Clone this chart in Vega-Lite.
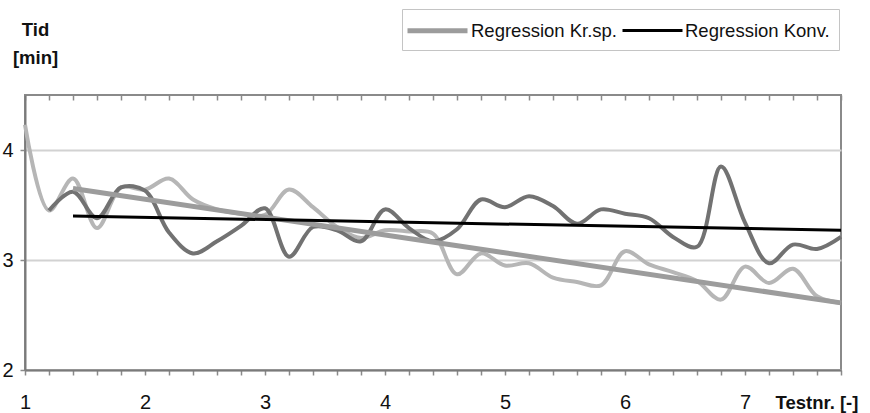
{
  "$schema": "https://vega.github.io/schema/vega-lite/v6.json",
  "width": 816,
  "height": 275,
  "autosize": "none",
  "padding": {"left": 25, "top": 95, "right": 29, "bottom": 43},
  "background": "white",
  "config": {
    "view": {"stroke": "#8a8a8a", "strokeWidth": 2},
    "font": "Liberation Sans",
    "axis": {
      "labelFont": "Liberation Sans",
      "labelFontSize": 20,
      "labelColor": "#111111",
      "titleFont": "Liberation Sans",
      "titleFontWeight": "bold",
      "titleFontSize": 18.5,
      "titleColor": "#111111",
      "domainColor": "#7a7a7a",
      "domainWidth": 2,
      "tickColor": "#8a8a8a",
      "tickWidth": 1.5
    }
  },
  "datasets": {
    "krsp": [
      {"testnr": 1, "tid": 4.23}, {"testnr": 1.2, "tid": 3.45}, {"testnr": 1.4, "tid": 3.74},
      {"testnr": 1.6, "tid": 3.29}, {"testnr": 1.8, "tid": 3.66}, {"testnr": 2, "tid": 3.64},
      {"testnr": 2.2, "tid": 3.74}, {"testnr": 2.4, "tid": 3.55}, {"testnr": 2.6, "tid": 3.46},
      {"testnr": 2.8, "tid": 3.42}, {"testnr": 3, "tid": 3.41}, {"testnr": 3.2, "tid": 3.64},
      {"testnr": 3.4, "tid": 3.48}, {"testnr": 3.6, "tid": 3.3}, {"testnr": 3.8, "tid": 3.2},
      {"testnr": 4, "tid": 3.27}, {"testnr": 4.2, "tid": 3.26}, {"testnr": 4.4, "tid": 3.24},
      {"testnr": 4.6, "tid": 2.87}, {"testnr": 4.8, "tid": 3.06}, {"testnr": 5, "tid": 2.95},
      {"testnr": 5.2, "tid": 2.97}, {"testnr": 5.4, "tid": 2.84}, {"testnr": 5.6, "tid": 2.8},
      {"testnr": 5.8, "tid": 2.77}, {"testnr": 6, "tid": 3.08}, {"testnr": 6.2, "tid": 2.96},
      {"testnr": 6.4, "tid": 2.89}, {"testnr": 6.6, "tid": 2.81}, {"testnr": 6.8, "tid": 2.64},
      {"testnr": 7, "tid": 2.94}, {"testnr": 7.2, "tid": 2.79}, {"testnr": 7.4, "tid": 2.92},
      {"testnr": 7.6, "tid": 2.67}, {"testnr": 7.8, "tid": 2.61}
    ],
    "konv": [
      {"testnr": 1.2, "tid": 3.45}, {"testnr": 1.4, "tid": 3.62}, {"testnr": 1.6, "tid": 3.38},
      {"testnr": 1.8, "tid": 3.66}, {"testnr": 2, "tid": 3.63}, {"testnr": 2.2, "tid": 3.25},
      {"testnr": 2.4, "tid": 3.06}, {"testnr": 2.6, "tid": 3.17}, {"testnr": 2.8, "tid": 3.31},
      {"testnr": 3, "tid": 3.47}, {"testnr": 3.2, "tid": 3.03}, {"testnr": 3.4, "tid": 3.3},
      {"testnr": 3.6, "tid": 3.27}, {"testnr": 3.8, "tid": 3.17}, {"testnr": 4, "tid": 3.46},
      {"testnr": 4.2, "tid": 3.29}, {"testnr": 4.4, "tid": 3.17}, {"testnr": 4.6, "tid": 3.28},
      {"testnr": 4.8, "tid": 3.55}, {"testnr": 5, "tid": 3.48}, {"testnr": 5.2, "tid": 3.58},
      {"testnr": 5.4, "tid": 3.49}, {"testnr": 5.6, "tid": 3.33}, {"testnr": 5.8, "tid": 3.46},
      {"testnr": 6, "tid": 3.42}, {"testnr": 6.2, "tid": 3.38}, {"testnr": 6.4, "tid": 3.21},
      {"testnr": 6.6, "tid": 3.12}, {"testnr": 6.8, "tid": 3.85}, {"testnr": 7, "tid": 3.34},
      {"testnr": 7.2, "tid": 2.97}, {"testnr": 7.4, "tid": 3.14}, {"testnr": 7.6, "tid": 3.1},
      {"testnr": 7.8, "tid": 3.21}
    ],
    "regression": [
      {"serie": "Regression Kr.sp.", "testnr": 1.4, "tid": 3.65},
      {"serie": "Regression Kr.sp.", "testnr": 7.8, "tid": 2.61},
      {"serie": "Regression Konv.", "testnr": 1.4, "tid": 3.4},
      {"serie": "Regression Konv.", "testnr": 7.8, "tid": 3.27}
    ]
  },
  "resolve": {"axis": {"x": "independent"}},
  "layer": [
    {
      "data": {"name": "krsp"},
      "mark": {"type": "line", "interpolate": "catmull-rom", "color": "#b6b6b6", "strokeWidth": 4},
      "encoding": {
        "x": {
          "field": "testnr", "type": "quantitative",
          "scale": {"domain": [1, 7.8], "nice": false, "zero": false},
          "axis": {
            "title": "Testnr. [-]",
            "titleAnchor": "start",
            "titleAlign": "left",
            "titleBaseline": "alphabetic",
            "titleX": 750,
            "titleY": 38,
            "values": [1, 1.2, 1.4, 1.6, 1.8, 2, 2.2, 2.4, 2.6, 2.8, 3, 3.2, 3.4, 3.6, 3.8, 4, 4.2, 4.4, 4.6, 4.8, 5, 5.2, 5.4, 5.6, 5.8, 6, 6.2, 6.4, 6.6, 6.8, 7, 7.2, 7.4, 7.6, 7.8],
            "labelExpr": "abs(datum.value - round(datum.value)) < 0.01 ? format(datum.value, 'd') : ''",
            "labelOverlap": false,
            "labelFlush": false,
            "labelBaseline": "alphabetic",
            "labelPadding": 33,
            "tickSize": 5,
            "grid": false
          }
        },
        "y": {
          "field": "tid", "type": "quantitative",
          "scale": {"domain": [2, 4.5], "nice": false, "zero": false},
          "axis": {
            "title": ["Tid", "[min]"],
            "titleAngle": 0,
            "titleAlign": "center",
            "titleBaseline": "alphabetic",
            "titleLineHeight": 28,
            "titleX": 10,
            "titleY": -60,
            "values": [2, 3, 4],
            "format": "d",
            "tickSize": 5,
            "labelPadding": 7,
            "grid": true,
            "gridColor": "#d2d2d2",
            "gridWidth": 2
          }
        }
      }
    },
    {
      "data": {"name": "konv"},
      "mark": {"type": "line", "interpolate": "catmull-rom", "color": "#727272", "strokeWidth": 4},
      "encoding": {
        "x": {
          "field": "testnr", "type": "quantitative",
          "axis": {
            "title": null,
            "labels": false,
            "domain": false,
            "grid": false,
            "values": [1, 1.2, 1.4, 1.6, 1.8, 2, 2.2, 2.4, 2.6, 2.8, 3, 3.2, 3.4, 3.6, 3.8, 4, 4.2, 4.4, 4.6, 4.8, 5, 5.2, 5.4, 5.6, 5.8, 6, 6.2, 6.4, 6.6, 6.8, 7, 7.2, 7.4, 7.6, 7.8],
            "tickSize": -5
          }
        },
        "y": {"field": "tid", "type": "quantitative"}
      }
    },
    {
      "data": {"name": "regression"},
      "mark": {"type": "line"},
      "encoding": {
        "x": {"field": "testnr", "type": "quantitative", "axis": null},
        "y": {"field": "tid", "type": "quantitative"},
        "color": {
          "field": "serie", "type": "nominal",
          "scale": {"domain": ["Regression Kr.sp.", "Regression Konv."], "range": ["#9c9c9c", "#000000"]},
          "legend": {
            "title": null,
            "orient": "none",
            "legendX": 377,
            "legendY": -86,
            "direction": "horizontal",
            "strokeColor": "#c4c4c4",
            "padding": 9,
            "symbolType": "M-3,0H3",
            "symbolSize": 400,
            "symbolOffset": 14,
            "labelFont": "Liberation Sans",
            "labelFontSize": 18.5,
            "labelColor": "#111111",
            "labelOffset": 21,
            "columnPadding": -2
          }
        },
        "strokeWidth": {
          "field": "serie", "type": "nominal",
          "scale": {"domain": ["Regression Kr.sp.", "Regression Konv."], "range": [5, 3]},
          "legend": {
            "title": null,
            "orient": "none",
            "legendX": 377,
            "legendY": -86,
            "direction": "horizontal",
            "strokeColor": "#c4c4c4",
            "padding": 9,
            "symbolType": "M-3,0H3",
            "symbolSize": 400,
            "symbolOffset": 14,
            "labelFont": "Liberation Sans",
            "labelFontSize": 18.5,
            "labelColor": "#111111",
            "labelOffset": 21,
            "columnPadding": -2
          }
        }
      }
    }
  ]
}
